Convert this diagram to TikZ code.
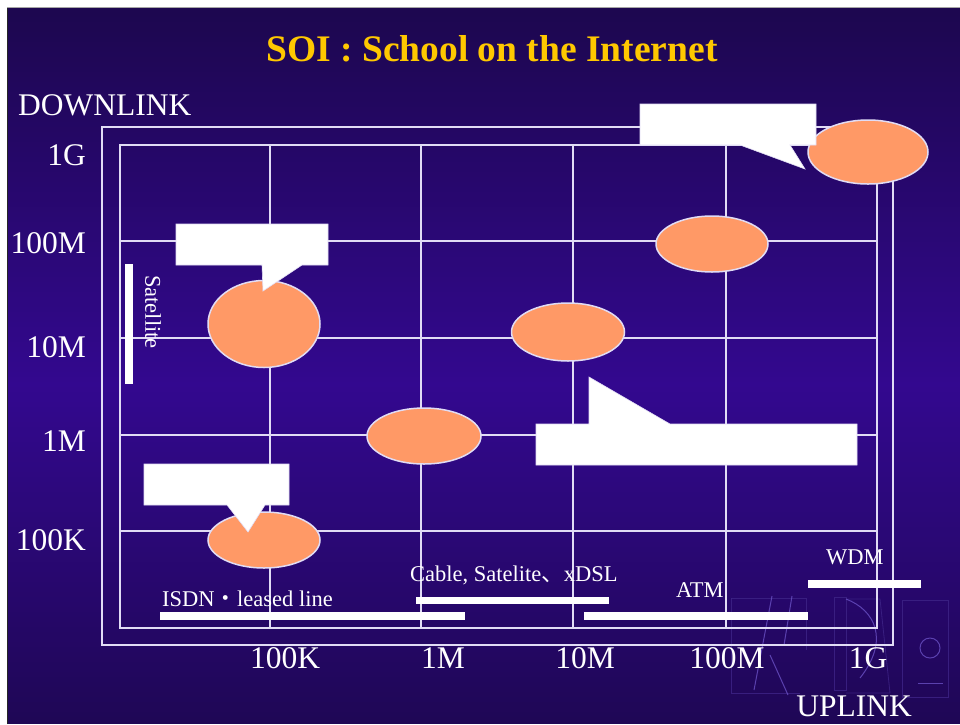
\documentclass[tikz,border=0pt]{standalone}
\usepackage{fontspec}
\setmainfont{Liberation Serif}
\newfontfamily\cjk{Noto Sans CJK JP}
\usetikzlibrary{shapes.geometric}
\definecolor{bgedge}{RGB}{29,7,80}
\definecolor{bgmid}{RGB}{51,8,143}
\definecolor{blobfill}{RGB}{255,153,102}
\definecolor{titlegold}{RGB}{255,200,0}
\definecolor{lav}{RGB}{225,220,245}
\definecolor{logofaint}{RGB}{62,36,135}
\definecolor{logobright}{RGB}{105,80,195}
\begin{document}
\begin{tikzpicture}[x=1pt,y=-1pt,
  gridline/.style={draw=lav, line width=1.7pt},
  bar/.style={fill=white},
  blob/.style={ellipse, draw=lav, line width=1.5pt, fill=blobfill, inner sep=0pt},
  balloon/.style={fill=white, draw=lav, line width=0.6pt},
  axislabel/.style={text=white, font=\fontsize{31.5}{31.5}\selectfont, inner sep=0pt},
  techlabel/.style={text=white, font=\fontsize{22.5}{22.5}\selectfont, inner sep=0pt},
  logoline/.style={draw=logobright, line width=1pt},
  logoedge/.style={draw=logofaint, line width=0.8pt}]
\useasboundingbox (0,0) rectangle (960,724);
% slide background: vertical gradient, dark at top and bottom, bright in the middle
\fill[white] (0,0) rectangle (960,724);
\foreach \i in {0,...,143} {
  \pgfmathsetmacro{\ya}{7+5*\i}
  \pgfmathsetmacro{\yb}{min(724,\ya+5.6)}
  \pgfmathsetmacro{\p}{max(0,100*(1-abs(\ya+2.5-385)/370))}
  \fill[bgmid!\p!bgedge] (7,\ya) rectangle (960,\yb);
}
\draw[black!85, line width=1.5pt] (7.5,724) -- (7.5,7.5);
\draw[gray!70, line width=1.5pt] (7,7.5) -- (960,7.5);

% title
\node[text=titlegold, font=\bfseries\fontsize{37.5}{37.5}\selectfont, anchor=base, inner sep=0pt] (title) at (492,61.5) {SOI : School on the Internet};

% faint logo, lower right
\begin{scope}[opacity=0.8]
\draw[logoedge] (731,598) -- (731,693) -- (800,693);
\draw[logoedge] (731,598) -- (806,598) -- (806,650);
\draw[logoedge] (834,597) rectangle (846,690);
\draw[logoedge] (846,599) -- (880,599) -- (890,693) -- (846,693);
\draw[logoedge] (902,600) rectangle (948,697);
\draw[logoline] (772,596) -- (754,690);
\draw[logoline] (792,596) -- (784,645);
\draw[logoline] (770,655) -- (788,695);
\draw[logoline] (846,599) .. controls (875,610) and (890,640) .. (860,678);
\draw[logoline] (930,648) circle (10);
\draw[logoline] (918,683) -- (943,683);
\end{scope}

% chart frame and grid
\draw[gridline] (102,127) rectangle (893,645);
\draw[gridline] (120,145) rectangle (877,628);
\foreach \gx in {270,421,573,726} \draw[gridline] (\gx,145) -- (\gx,628);
\foreach \gy in {241,338,435,531} \draw[gridline] (120,\gy) -- (877,\gy);

% axis labels
\node[axislabel, anchor=base west] (down) at (18,115.5) {DOWNLINK};
\node[axislabel, anchor=base east] (y1g) at (86,165.5) {1G};
\node[axislabel, anchor=base east] (y100m) at (86,253.5) {100M};
\node[axislabel, anchor=base east] (y10m) at (86,357.5) {10M};
\node[axislabel, anchor=base east] (y1m) at (86,451.5) {1M};
\node[axislabel, anchor=base east] (y100k) at (86,550.5) {100K};
\node[axislabel, anchor=base] (x100k) at (285,668.5) {100K};
\node[axislabel, anchor=base] (x1m) at (443,668.5) {1M};
\node[axislabel, anchor=base] (x10m) at (585,668.5) {10M};
\node[axislabel, anchor=base] (x100m) at (727,668.5) {100M};
\node[axislabel, anchor=base] (x1g) at (868,668.5) {1G};
\node[axislabel, anchor=base] (up) at (854,716.5) {UPLINK};

% access technology ranges
\fill[bar] (125,264) rectangle (133,384);
\node[techlabel, rotate=-90] (sat) at (153,312) {Satellite};
\fill[bar] (160,612) rectangle (465,620);
\node[techlabel, anchor=base west] (isdn) at (162,606) {ISDN{\cjk ・}leased line};
\fill[bar] (416,597) rectangle (609,604);
\node[techlabel, anchor=base west] (cable) at (410,581) {Cable, Satelite{\cjk 、}xDSL};
\fill[bar] (584,612) rectangle (808,620);
\node[techlabel, anchor=base west] (atm) at (676,597) {ATM};
\fill[bar] (808,580) rectangle (921,588);
\node[techlabel, anchor=base west] (wdm) at (826,564) {WDM};

% bandwidth points
\node[blob, minimum width=120pt, minimum height=64pt] (p1g) at (868,152) {};
\node[blob, minimum width=112pt, minimum height=56pt] (p100m) at (712,244) {};
\node[blob, minimum width=113pt, minimum height=58pt] (p10m) at (568,332) {};
\node[blob, minimum width=114pt, minimum height=56pt] (p1m) at (424,436) {};
\node[blob, minimum width=112pt, minimum height=87pt] (psat) at (264,324) {};
\node[blob, minimum width=112pt, minimum height=56pt] (p100k) at (264,540) {};

% speech balloons
\path[balloon] (640,104) -- (816,104) -- (816,145) -- (790,145) -- (805,169) -- (740,145) -- (640,145) -- cycle;
\path[balloon] (176,224) -- (328,224) -- (328,265) -- (302,265) -- (263,291) -- (262,265) -- (176,265) -- cycle;
\path[balloon] (144,464) -- (289,464) -- (289,505) -- (265,505) -- (248,532) -- (227,505) -- (144,505) -- cycle;
\path[balloon] (536,424) -- (589,424) -- (589,377) -- (670,424) -- (857,424) -- (857,465) -- (536,465) -- cycle;
\end{tikzpicture}
\end{document}
